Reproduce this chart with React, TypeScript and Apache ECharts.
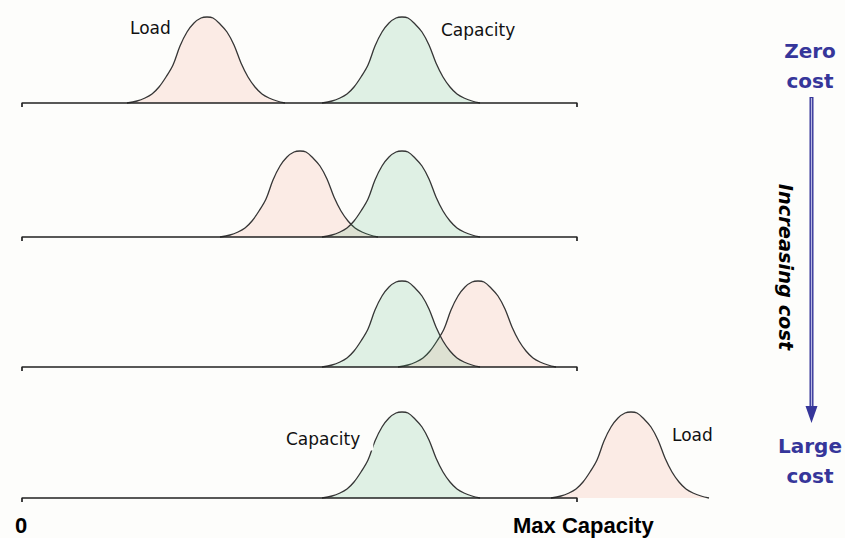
import React, { useEffect, useRef } from "react";
import * as echarts from "echarts";

// Shared density outline: offset from the peak (x units) and height (y units)
const PROFILE_OFFSET = [-80, -70, -62, -55, -48, -41, -34, -27, -20, -13, -6, 0, 6, 13, 20, 27, 34, 41, 48, 55, 62, 70, 78];
const PROFILE_HEIGHT = [0, 2, 5, 9, 16, 26, 38, 57, 71, 80, 85, 86, 85, 79, 71, 58, 40, 26, 16, 9, 5, 2, 0];

// Peak positions per scenario (row), in x units where 0 = "0" and 555 = "Max Capacity"
const SCENARIOS = ["Zero cost", "Cost 2", "Cost 3", "Large cost"];
const LOAD_PEAKS = [185, 278, 456, 609];
const CAPACITY_PEAKS = [380, 380, 380, 380];
const MAX_CAPACITY = 555;
const X_MAX = 700;

const BASELINES = [103, 237, 367, 498];

const LOAD_FILL = "rgba(240,135,110,0.22)";
const CAP_FILL = "rgba(70,175,115,0.23)";
const OUTLINE = "#363636";
const BLUE = "#36369a";

function curve(center: number): number[][] {
  return PROFILE_OFFSET.map((o, i) => [center + o, PROFILE_HEIGHT[i]]);
}

export default function App() {
  const ref = useRef<HTMLDivElement>(null);
  useEffect(() => {
    if (!ref.current) return;
    const chart = echarts.init(ref.current, null, { renderer: "svg" });
    const grids = BASELINES.map((b) => ({ left: 22, top: b - 90, width: X_MAX, height: 100 }));
    const xAxes = BASELINES.map((_, i) => ({ type: "value", gridIndex: i, min: 0, max: X_MAX, show: false }));
    const yAxes = BASELINES.map((_, i) => ({ type: "value", gridIndex: i, min: -10, max: 90, show: false }));
    const series: any[] = [];
    SCENARIOS.forEach((name, i) => {
      series.push({
        name: "Load " + name,
        type: "line",
        xAxisIndex: i,
        yAxisIndex: i,
        data: curve(LOAD_PEAKS[i]),
        smooth: 0.35,
        symbol: "none",
        lineStyle: { color: OUTLINE, width: 1.3 },
        areaStyle: { color: LOAD_FILL, origin: 0 },
        z: 2,
      });
      series.push({
        name: "Capacity " + name,
        type: "line",
        xAxisIndex: i,
        yAxisIndex: i,
        data: curve(CAPACITY_PEAKS[i]),
        smooth: 0.35,
        symbol: "none",
        lineStyle: { color: OUTLINE, width: 1.3 },
        areaStyle: { color: CAP_FILL, origin: 0 },
        z: 3,
      });
      series.push({
        name: "Axis " + name,
        type: "line",
        xAxisIndex: i,
        yAxisIndex: i,
        data: [[0, -4], [0, 0], [MAX_CAPACITY, 0], [MAX_CAPACITY, -4]],
        symbol: "none",
        lineStyle: { color: "#222", width: 1.7 },
        z: 5,
      });
    });

    const txt = (text: string, x: number, y: number, extra: any = {}, el: any = {}) => ({
      type: "text",
      x,
      y,
      z: 10,
      ...el,
      style: {
        text,
        fill: "#111",
        fontSize: 17,
        fontFamily: "DejaVu Sans",
        align: "left",
        textAlign: "left",
        verticalAlign: "middle",
        textVerticalAlign: "middle",
        ...extra,
      },
    });

    const graphic: any[] = [
      txt("Load", 130, 28),
      txt("Capacity", 441, 30),
      txt("Capacity", 286, 439, { backgroundColor: "#fdfdfb", padding: [3, 13, 3, 0] }),
      txt("Load", 672, 435),
      txt("0", 21, 525, { fontFamily: "Liberation Sans", fontWeight: "bold", fontSize: 22, align: "center", textAlign: "center", fill: "#000" }),
      txt("Max Capacity", 513, 525, { fontFamily: "Liberation Sans", fontWeight: "bold", fontSize: 22, fill: "#000" }),
      txt("Zero", 810, 51, { fontWeight: "bold", fontSize: 20, fill: BLUE, align: "center", textAlign: "center" }),
      txt("cost", 810, 81, { fontWeight: "bold", fontSize: 20, fill: BLUE, align: "center", textAlign: "center" }),
      txt("Large", 810, 446, { fontWeight: "bold", fontSize: 20, fill: BLUE, align: "center", textAlign: "center" }),
      txt("cost", 810, 476, { fontWeight: "bold", fontSize: 20, fill: BLUE, align: "center", textAlign: "center" }),
      txt("Increasing cost", 785, 267, { fontStyle: "italic", fontWeight: "bold", fontSize: 19, fill: "#000", align: "center", textAlign: "center" }, { rotation: -Math.PI / 2, scaleX: 1.02 }),
      {
        type: "line",
        z: 9,
        shape: { x1: 811.5, y1: 97, x2: 811.5, y2: 410 },
        style: { stroke: BLUE, lineWidth: 4 },
      },
      {
        type: "line",
        z: 9,
        shape: { x1: 811.5, y1: 98, x2: 811.5, y2: 408 },
        style: { stroke: "#b9b9e2", lineWidth: 1.2 },
      },
      {
        type: "polygon",
        z: 9,
        shape: { points: [[805.5, 406], [817.5, 406], [811.5, 423]] },
        style: { fill: BLUE },
      },
    ];

    chart.setOption({
      animation: false,
      backgroundColor: "#fdfdfb",
      grid: grids,
      xAxis: xAxes,
      yAxis: yAxes,
      series,
      graphic,
    });
    return () => chart.dispose();
  }, []);
  return <div ref={ref} style={{ position: "fixed", left: 0, top: 0, width: 845, height: 538 }} />;
}
